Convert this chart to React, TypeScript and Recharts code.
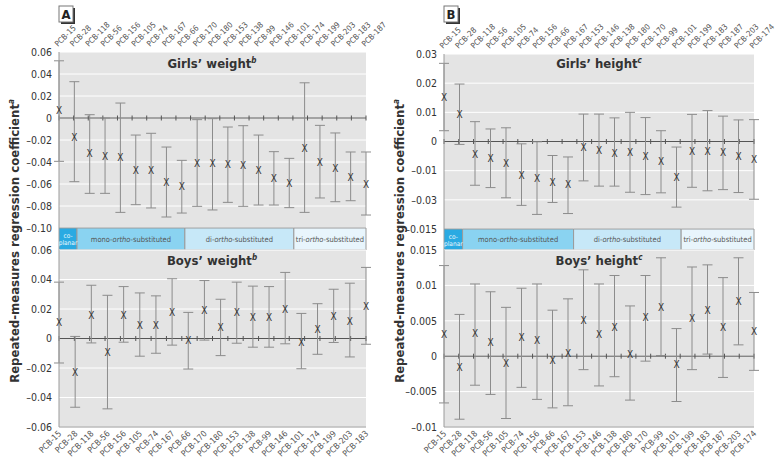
import React from 'react';
import {
  ComposedChart,
  Scatter,
  ErrorBar,
  XAxis,
  YAxis,
  CartesianGrid,
  ReferenceLine,
  BarChart,
  Bar,
  LabelList,
} from 'recharts';

const FONT = '"Liberation Sans Narrow", "Arial Narrow", "DejaVu Sans Condensed", "Liberation Sans", sans-serif';

// ---------- Panel A: weight ----------
const weightGirlsNames = ['PCB-15', 'PCB-28', 'PCB-118', 'PCB-56', 'PCB-156', 'PCB-105', 'PCB-74', 'PCB-167', 'PCB-66', 'PCB-170', 'PCB-180', 'PCB-153', 'PCB-138', 'PCB-99', 'PCB-146', 'PCB-101', 'PCB-174', 'PCB-199', 'PCB-203', 'PCB-183', 'PCB-187'];
const weightGirlsEst = [0.007, -0.0176, -0.0327, -0.0348, -0.0358, -0.0473, -0.0479, -0.0585, -0.0621, -0.0412, -0.0415, -0.0427, -0.0436, -0.0479, -0.0548, -0.0597, -0.0276, -0.0403, -0.0455, -0.0539, -0.06];
const weightGirlsLow = [-0.0394, -0.0579, -0.0685, -0.0685, -0.0858, -0.0788, -0.0818, -0.09, -0.0864, -0.0803, -0.0836, -0.0767, -0.0803, -0.0791, -0.0791, -0.0815, -0.0858, -0.0727, -0.0761, -0.0752, -0.0882];
const weightGirlsHigh = [0.052, 0.033, 0.003, 0.0, 0.0136, -0.0155, -0.0139, -0.0264, -0.0385, -0.0015, -0.0006, -0.0082, -0.007, -0.0155, -0.0306, -0.0367, 0.032, -0.0067, -0.0136, -0.0309, -0.0309];

const weightBoysNames = ['PCB-15', 'PCB-28', 'PCB-118', 'PCB-56', 'PCB-156', 'PCB-105', 'PCB-74', 'PCB-167', 'PCB-66', 'PCB-170', 'PCB-180', 'PCB-153', 'PCB-138', 'PCB-99', 'PCB-146', 'PCB-101', 'PCB-174', 'PCB-199', 'PCB-203', 'PCB-183'];
const weightBoysEst = [0.0107, -0.023, 0.0159, -0.0092, 0.0159, 0.0091, 0.0091, 0.0175, -0.0016, 0.0189, 0.0073, 0.0173, 0.0141, 0.0139, 0.0198, -0.0027, 0.0059, 0.0152, 0.0116, 0.0216];
const weightBoysLow = [-0.0166, -0.0466, -0.003, -0.0477, -0.0025, -0.012, -0.01, -0.0045, -0.0207, -0.0011, -0.0116, -0.0032, -0.0059, -0.0059, -0.0036, -0.0205, -0.0107, -0.0027, -0.0125, -0.0039];
const weightBoysHigh = [0.0382, 0.0014, 0.0361, 0.0293, 0.0352, 0.0309, 0.0289, 0.0405, 0.0177, 0.0393, 0.0266, 0.0382, 0.0355, 0.0352, 0.0448, 0.017, 0.0236, 0.0334, 0.0375, 0.0482];

const weightGirlsTicks = [0.06, 0.04, 0.02, 0, -0.02, -0.04, -0.06, -0.08, -0.1];
const weightGirlsTickLabels = ['0.06', '0.04', '0.02', '0', '–0.02', '–0.04', '–0.06', '–0.08', '–0.10'];
const weightBoysTicks = [0.06, 0.04, 0.02, 0, -0.02, -0.04, -0.06];
const weightBoysTickLabels = ['0.06', '0.04', '0.02', '0', '–0.02', '–0.04', '–0.06'];

// ---------- Panel B: height ----------
const heightNames = ['PCB-15', 'PCB-28', 'PCB-118', 'PCB-56', 'PCB-105', 'PCB-74', 'PCB-156', 'PCB-66', 'PCB-167', 'PCB-153', 'PCB-146', 'PCB-138', 'PCB-180', 'PCB-170', 'PCB-99', 'PCB-101', 'PCB-199', 'PCB-183', 'PCB-187', 'PCB-203', 'PCB-174'];
const heightGirlsEst = [0.0151, 0.0094, -0.0044, -0.0057, -0.0074, -0.0116, -0.0126, -0.0141, -0.0149, -0.0022, -0.0031, -0.004, -0.0039, -0.0051, -0.007, -0.0122, -0.0033, -0.0034, -0.0039, -0.0051, -0.0061];
const heightGirlsLow = [0.0037, -0.001, -0.015, -0.0158, -0.0193, -0.0219, -0.025, -0.0209, -0.0247, -0.0135, -0.0153, -0.0153, -0.0174, -0.0182, -0.0176, -0.0225, -0.0157, -0.0169, -0.0165, -0.0175, -0.0198];
const heightGirlsHigh = [0.0268, 0.0197, 0.0068, 0.0043, 0.0047, -0.0008, -0.0001, -0.0048, -0.0053, 0.0094, 0.0094, 0.0081, 0.01, 0.0082, 0.0037, -0.0019, 0.0093, 0.0106, 0.0087, 0.0074, 0.0075];

const heightBoysEst = [0.0031, -0.0016, 0.0032, 0.0019, -0.001, 0.0026, 0.0022, -0.0006, 0.0004, 0.0051, 0.003, 0.0041, 0.0003, 0.0055, 0.0069, -0.0012, 0.0053, 0.0065, 0.0041, 0.0077, 0.0035];
const heightBoysLow = [-0.0066, -0.0089, -0.0041, -0.0054, -0.0088, -0.0044, -0.0061, -0.0073, -0.007, -0.0019, -0.0042, -0.0029, -0.0062, -0.0007, 0.0001, -0.0064, -0.0019, 0.0003, -0.003, 0.0016, -0.002];
const heightBoysHigh = [0.0128, 0.0059, 0.0102, 0.0091, 0.0069, 0.0096, 0.0102, 0.0065, 0.0081, 0.0122, 0.0102, 0.0114, 0.0071, 0.0114, 0.0139, 0.0039, 0.0126, 0.0129, 0.0111, 0.0139, 0.009];

const heightGirlsTicks = [0.03, 0.02, 0.01, 0, -0.01, -0.02, -0.03];
const heightGirlsTickLabels = ['0.03', '0.02', '0.01', '0', '–0.01', '–0.03', '–0.015'];
const heightBoysTicks = [0.015, 0.01, 0.005, 0, -0.005, -0.01];
const heightBoysTickLabels = ['0.015', '0.01', '0.005', '0', '–0.005', '–0.01'];

// ---------- Substitution bands ----------
const bandNames = ['co-planar', 'mono-ortho-substituted', 'di-ortho-substituted', 'tri-ortho-substituted'];
const bandColors = ['#2aaae2', '#8ad3f1', '#c7e8f8', '#e8f5fc'];
const bandEdgesA = [0, 0.0586, 0.41, 0.765, 1];
const bandEdgesB = [0, 0.06, 0.418, 0.765, 1];

type Row = { name: string; v: number; err: [number, number] };
const makeRows = (names: string[], est: number[], low: number[], high: number[]): Row[] =>
  names.map((n, i) => ({ name: n, v: est[i], err: [est[i] - low[i], high[i] - est[i]] }));

const XMarker = (props: any) => {
  const { cx, cy } = props;
  if (cx == null || cy == null) return <g />;
  return (
    <text x={cx} y={cy + 3.5} textAnchor="middle" fontSize={10} fill="#333" fontFamily={FONT}>
      X
    </text>
  );
};

const zeroLineShape = (count: number) => (props: any) => {
  const { x1, y1, x2 } = props;
  const marks: React.ReactNode[] = [];
  for (let i = 0; i <= count; i++) {
    const x = x1 + ((x2 - x1) * i) / count;
    marks.push(<line key={i} x1={x} x2={x} y1={y1 - 2.5} y2={y1 + 2.5} stroke="#555" strokeWidth={1} />);
  }
  return (
    <g>
      <line x1={x1} y1={y1} x2={x2} y2={y1} stroke="#555" strokeWidth={1} />
      {marks}
    </g>
  );
};

const TopTick = (props: any) => {
  const { x, y, payload } = props;
  const tx = x - 1;
  const ty = y - 5;
  return (
    <text x={tx} y={ty} transform={`rotate(-45 ${tx} ${ty})`} textAnchor="start" fontSize={8} fill="#555" fontFamily={FONT}>
      {payload.value}
    </text>
  );
};

const BottomTick = (props: any) => {
  const { x, y, payload } = props;
  const tx = x + 3;
  const ty = y + 7;
  return (
    <text x={tx} y={ty} transform={`rotate(-45 ${tx} ${ty})`} textAnchor="end" fontSize={8.5} fill="#555" fontFamily={FONT}>
      {payload.value}
    </text>
  );
};

type ChartProps = {
  rows: Row[];
  ticks: number[];
  tickLabels: string[];
  top: boolean;
  width: number;
  height: number;
  axisHeight: number;
  marginRight: number;
};

const EffectChart = ({ rows, ticks, tickLabels, top, width, height, axisHeight, marginRight }: ChartProps) => {
  const fmt = (v: number) => {
    const i = ticks.indexOf(v);
    return i >= 0 ? tickLabels[i] : String(v);
  };
  return (
    <ComposedChart width={width} height={height} data={rows} margin={{ top: 0, right: marginRight, bottom: 0, left: 0 }}>
      <CartesianGrid horizontal vertical={false} stroke="#ffffff" fill="#e4e4e4" fillOpacity={1} />
      <XAxis
        dataKey="name"
        type="category"
        orientation={top ? 'top' : 'bottom'}
        height={axisHeight}
        interval={0}
        tickLine={false}
        tickSize={0}
        tickMargin={0}
        axisLine={top ? false : { stroke: '#9a9a9a' }}
        tick={top ? <TopTick /> : <BottomTick />}
      />
      <YAxis
        type="number"
        width={59}
        domain={[ticks[ticks.length - 1], ticks[0]]}
        ticks={ticks}
        interval={0}
        tickFormatter={fmt}
        tickLine={false}
        tickSize={0}
        tickMargin={7}
        axisLine={{ stroke: '#9a9a9a' }}
        tick={{ fontSize: 10.5, fill: '#333', fontFamily: FONT }}
      />
      <ReferenceLine y={0} shape={zeroLineShape(rows.length)} ifOverflow="visible" />
      <Scatter dataKey="v" shape={<XMarker />} isAnimationActive={false}>
        <ErrorBar dataKey="err" direction="y" width={5} stroke="#8c8c8c" strokeWidth={1} isAnimationActive={false} />
      </Scatter>
    </ComposedChart>
  );
};

const BandLabel = (seg: number) => (props: any) => {
  const { x, y, width, height } = props;
  const cx = x + width / 2;
  const cy = y + height / 2;
  if (seg === 0) {
    return (
      <text x={cx} textAnchor="middle" fontSize={6.5} fill="#e9f7fd" fontFamily={FONT}>
        <tspan x={cx} y={cy - 1}>co-</tspan>
        <tspan x={cx} y={cy + 6}>planar</tspan>
      </text>
    );
  }
  const parts = bandNames[seg].split('ortho');
  return (
    <text x={cx} y={cy + 2.5} textAnchor="middle" fontSize={7.5} fill="#555" fontFamily={FONT}>
      {parts[0]}
      <tspan fontStyle="italic">ortho</tspan>
      {parts[1]}
    </text>
  );
};

const Band = ({ edges, width, height }: { edges: number[]; width: number; height: number }) => {
  const row: any = { k: 'band' };
  bandNames.forEach((_, i) => {
    row['s' + i] = edges[i + 1] - edges[i];
  });
  return (
    <BarChart width={width} height={height} data={[row]} layout="vertical" margin={{ top: 0, right: 0, bottom: 0, left: 0 }} barCategoryGap={0}>
      <XAxis type="number" domain={[0, 1]} hide />
      <YAxis type="category" dataKey="k" hide />
      {bandNames.map((_, i) => (
        <Bar key={i} dataKey={'s' + i} stackId="b" fill={bandColors[i]} stroke="#9a9a9a" strokeWidth={1} isAnimationActive={false}>
          <LabelList dataKey={'s' + i} content={BandLabel(i)} />
        </Bar>
      ))}
    </BarChart>
  );
};

const Title = ({ x, y, text, sup }: { x: number; y: number; text: string; sup: string }) => (
  <text x={x} y={y} textAnchor="middle" fontSize={13} fontWeight="bold" fill="#333" fontFamily={FONT}>
    {text}
    <tspan dy={-5} fontSize={8} fontStyle="italic">
      {sup}
    </tspan>
  </text>
);

const PanelLetter = ({ x, y, letter }: { x: number; y: number; letter: string }) => (
  <g>
    <rect x={x + 2} y={y + 2} width={14} height={16} fill="#333" />
    <rect x={x} y={y} width={14} height={16} fill="#fff" stroke="#777" strokeWidth={1} />
    <text x={x + 7} y={y + 12.5} textAnchor="middle" fontSize={13} fontWeight="bold" fill="#222" fontFamily={FONT}>
      {letter}
    </text>
  </g>
);

const YTitle = ({ x, y }: { x: number; y: number }) => (
  <text transform={`translate(${x} ${y}) rotate(-90)`} textAnchor="middle" fontSize={13} fontWeight="bold" fill="#333" fontFamily={FONT}>
    Repeated-measures regression coefficient
    <tspan dy={-5} fontSize={8} fontStyle="italic">
      a
    </tspan>
  </text>
);

export default function App() {
  const wg = makeRows(weightGirlsNames, weightGirlsEst, weightGirlsLow, weightGirlsHigh);
  const wb = makeRows(weightBoysNames, weightBoysEst, weightBoysLow, weightBoysHigh);
  const hg = makeRows(heightNames, heightGirlsEst, heightGirlsLow, heightGirlsHigh);
  const hb = makeRows(heightNames, heightBoysEst, heightBoysLow, heightBoysHigh);
  return (
    <div style={{ position: 'absolute', left: 0, top: 0, width: 775, height: 462, background: '#fff', fontFamily: FONT, overflow: 'hidden' }}>
      <style>{'.recharts-wrapper, .recharts-surface { overflow: visible !important; }'}</style>
      {/* Panel A */}
      <div style={{ position: 'absolute', left: 0, top: 0 }}>
        <EffectChart rows={wg} ticks={weightGirlsTicks} tickLabels={weightGirlsTickLabels} top width={380} height={228} axisHeight={52} marginRight={14} />
      </div>
      <div style={{ position: 'absolute', left: 59, top: 228 }}>
        <Band edges={bandEdgesA} width={307} height={22} />
      </div>
      <div style={{ position: 'absolute', left: 0, top: 250 }}>
        <EffectChart rows={wb} ticks={weightBoysTicks} tickLabels={weightBoysTickLabels} top={false} width={380} height={212} axisHeight={35} marginRight={14} />
      </div>
      {/* Panel B */}
      <div style={{ position: 'absolute', left: 385, top: 0 }}>
        <EffectChart rows={hg} ticks={heightGirlsTicks} tickLabels={heightGirlsTickLabels} top width={390} height={229} axisHeight={54} marginRight={21} />
      </div>
      <div style={{ position: 'absolute', left: 444, top: 229 }}>
        <Band edges={bandEdgesB} width={310} height={21} />
      </div>
      <div style={{ position: 'absolute', left: 385, top: 250 }}>
        <EffectChart rows={hb} ticks={heightBoysTicks} tickLabels={heightBoysTickLabels} top={false} width={390} height={212} axisHeight={35} marginRight={21} />
      </div>
      <svg width={775} height={462} style={{ position: 'absolute', left: 0, top: 0, pointerEvents: 'none' }}>
        <YTitle x={19} y={241} />
        <YTitle x={404} y={241} />
        <PanelLetter x={59} y={6} letter="A" />
        <PanelLetter x={444} y={6} letter="B" />
        <Title x={212} y={68} text="Girls’ weight" sup="b" />
        <Title x={212} y={265} text="Boys’ weight" sup="b" />
        <Title x={599} y={68} text="Girls’ height" sup="c" />
        <Title x={599} y={265} text="Boys’ height" sup="c" />
      </svg>
    </div>
  );
}
